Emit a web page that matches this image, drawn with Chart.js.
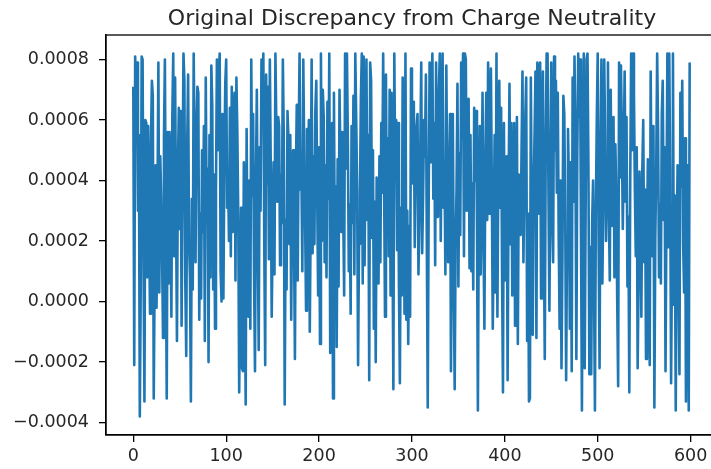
<!DOCTYPE html>
<html>
<head>
<meta charset="utf-8">
<script src="https://cdn.jsdelivr.net/npm/chart.js@4"></script>
<style>
html,body{margin:0;padding:0;background:#fff;overflow:hidden;width:711px;height:469px}
#wrap{position:absolute;left:0;top:0;width:724px;height:469px}
</style>
</head>
<body>
<div id="wrap"><canvas id="c"></canvas></div>
<script>
const chartTitle = 'Original Discrepancy from Charge Neutrality';

// Discrepancy values, samples 0..599
const seg1 = [
7.1e-4,-2.1e-4,8.1e-4,6.4e-4,7.9e-4,3.0e-4,5.5e-4,-3.8e-4,0.5e-4,8.1e-4,8.0e-4,1.2e-4,-3.3e-4,6.0e-4,5.9e-4,0.8e-4,5.8e-4,2.5e-4,-0.4e-4,5.2e-4,
7.3e-4,6.8e-4,-3.2e-4,1.0e-4,4.5e-4,-0.2e-4,3.2e-4,7.9e-4,0.3e-4,4.8e-4,3.5e-4,1.5e-4,-1.2e-4,5.4e-4,8.0e-4,2.0e-4,-3.2e-4,5.6e-4,0.6e-4,5.6e-4,
2.8e-4,-0.5e-4,6.1e-4,8.2e-4,1.5e-4,7.4e-4,3.0e-4,-1.3e-4,4.3e-4,6.4e-4,2.4e-4,6.3e-4,-0.8e-4,3.8e-4,8.2e-4,7.3e-4,0.6e-4,-1.8e-4,5.1e-4,7.5e-4,
2.0e-4,0.8e-4,-3.3e-4,3.4e-4,0.4e-4,8.2e-4,4.9e-4,1.3e-4,5.6e-4,7.1e-4,6.9e-4,-0.6e-4,2.9e-4,0.1e-4,5.0e-4,2.3e-4,5.8e-4,-1.3e-4,7.4e-4,2.7e-4,
4.4e-4,-2.0e-4,5.5e-4,0.8e-4,7.8e-4,6.5e-4,0.4e-4,4.2e-4,-0.9e-4,3.6e-4,8.0e-4,5.0e-4,7.6e-4,8.2e-4,1.0e-4,0.0,6.2e-4,0.1e-4,4.5e-4,7.2e-4
];
const seg2 = [
8.0e-4,3.1e-4,4.2e-4,2.0e-4,6.4e-4,1.5e-4,7.1e-4,2.3e-4,5.8e-4,6.9e-4,0.7e-4,7.4e-4,5.6e-4,2.8e-4,-3.0e-4,0.3e-4,3.1e-4,-2.2e-4,-2.3e-4,4.6e-4,
1.0e-4,-3.4e-4,5.7e-4,1.1e-4,-0.5e-4,4.0e-4,-0.9e-4,8.0e-4,3.5e-4,6.2e-4,0.8e-4,-2.3e-4,4.0e-4,7.0e-4,2.2e-4,-1.6e-4,5.1e-4,3.0e-4,8.0e-4,6.5e-4,
8.2e-4,1.8e-4,-2.1e-4,7.5e-4,3.9e-4,7.1e-4,1.4e-4,8.0e-4,4.4e-4,-0.5e-4,2.1e-4,4.6e-4,0.9e-4,8.2e-4,5.8e-4,3.3e-4,6.1e-4,5.8e-4,1.2e-4,4.2e-4,
2.6e-4,8.0e-4,5.5e-4,-3.4e-4,2.7e-4,0.4e-4,6.3e-4,5.4e-4,1.9e-4,5.5e-4,-0.6e-4,3.6e-4,5.0e-4,2.2e-4,-1.9e-4,4.1e-4,6.5e-4,0.7e-4,5.2e-4,8.2e-4,
3.7e-4,4.2e-4,1.0e-4,8.0e-4,4.9e-4,2.6e-4,-0.3e-4,5.7e-4,3.2e-4,6.0e-4,-1.0e-4,2.9e-4,8.0e-4,1.6e-4,4.8e-4,1.9e-4,6.3e-4,7.3e-4,3.5e-4,0.2e-4
];
const seg3 = [
5.1e-4,-1.4e-4,8.2e-4,2.0e-4,7.0e-4,6.1e-4,1.3e-4,4.5e-4,0.8e-4,6.6e-4,3.4e-4,8.2e-4,-1.7e-4,2.5e-4,5.9e-4,-3.2e-4,6.9e-4,1.1e-4,3.8e-4,-1.5e-4,
4.7e-4,0.5e-4,7.0e-4,4.6e-4,2.3e-4,5.6e-4,3.0e-4,0.2e-4,8.2e-4,4.4e-4,8.2e-4,5.3e-4,1.0e-4,3.2e-4,-0.4e-4,5.8e-4,2.6e-4,6.8e-4,0.9e-4,8.2e-4,
6.0e-4,3.7e-4,-2.1e-4,1.9e-4,3.4e-4,6.7e-4,8.2e-4,0.6e-4,8.1e-4,1.2e-4,4.9e-4,8.0e-4,2.7e-4,5.5e-4,-2.6e-4,7.9e-4,7.3e-4,2.1e-4,5.0e-4,-0.9e-4,
3.3e-4,-2.0e-4,4.1e-4,2.4e-4,0.6e-4,4.8e-4,1.3e-4,5.9e-4,3.6e-4,8.2e-4,4.0e-4,-0.5e-4,7.5e-4,2.2e-4,5.4e-4,1.5e-4,7.0e-4,0.2e-4,6.9e-4,2.4e-4,
-2.9e-4,8.2e-4,4.0e-4,6.0e-4,1.7e-4,5.9e-4,0.5e-4,-2.7e-4,3.1e-4,0.2e-4,7.4e-4,4.1e-4,-0.4e-4,8.2e-4,-0.6e-4,3.0e-4,-1.4e-4,2.5e-4,-0.5e-4,7.7e-4
];
const seg4 = [
5.2e-4,3.9e-4,6.6e-4,1.8e-4,4.4e-4,5.8e-4,6.2e-4,0.9e-4,2.6e-4,5.1e-4,7.9e-4,1.6e-4,3.5e-4,6.0e-4,4.8e-4,7.5e-4,2.0e-4,-3.5e-4,3.3e-4,7.9e-4,
4.6e-4,6.8e-4,8.2e-4,3.4e-4,5.9e-4,1.2e-4,7.9e-4,2.8e-4,5.3e-4,7.0e-4,8.2e-4,2.0e-4,5.7e-4,8.2e-4,3.1e-4,4.6e-4,0.9e-4,7.8e-4,3.6e-4,1.3e-4,
4.2e-4,6.2e-4,-2.3e-4,2.4e-4,6.2e-4,0.8e-4,-2.9e-4,1.9e-4,3.7e-4,7.2e-4,0.5e-4,4.9e-4,2.2e-4,7.9e-4,5.4e-4,8.2e-4,1.5e-4,8.2e-4,8.0e-4,3.0e-4,
4.8e-4,6.7e-4,1.1e-4,5.5e-4,1.0e-4,3.9e-4,0.4e-4,6.4e-4,4.0e-4,6.3e-4,2.6e-4,-3.6e-4,3.2e-4,5.8e-4,0.9e-4,3.4e-4,6.9e-4,2.1e-4,-0.9e-4,4.5e-4,
6.9e-4,2.7e-4,7.9e-4,2.9e-4,5.6e-4,7.7e-4,3.8e-4,-0.9e-4,2.0e-4,5.5e-4,0.3e-4,8.2e-4,-0.5e-4,4.4e-4,7.3e-4,3.1e-4,6.4e-4,1.0e-4,-3.0e-4,5.9e-4
];
const seg5 = [
0.7e-4,2.2e-4,4.8e-4,-2.6e-4,3.6e-4,7.2e-4,1.9e-4,5.9e-4,0.2e-4,3.9e-4,5.9e-4,-0.8e-4,3.2e-4,6.1e-4,-1.4e-4,4.2e-4,2.4e-4,2.2e-4,5.0e-4,7.6e-4,
1.3e-4,3.8e-4,6.0e-4,7.4e-4,-1.3e-4,2.9e-4,-3.3e-4,-3.2e-4,7.4e-4,2.5e-4,-1.1e-4,3.7e-4,5.5e-4,7.6e-4,-1.2e-4,7.9e-4,7.6e-4,2.9e-4,7.9e-4,0.1e-4,
4.6e-4,7.6e-4,2.3e-4,-1.9e-4,5.0e-4,8.2e-4,8.2e-4,3.5e-4,-0.3e-4,4.1e-4,7.9e-4,2.8e-4,1.3e-4,8.1e-4,5.0e-4,7.3e-4,3.6e-4,6.9e-4,2.1e-4,-0.9e-4,
4.0e-4,-2.2e-4,1.4e-4,6.8e-4,6.2e-4,3.0e-4,-2.6e-4,2.2e-4,5.7e-4,3.9e-4,-0.9e-4,4.6e-4,-2.3e-4,7.4e-4,3.3e-4,8.1e-4,5.2e-4,-1.9e-4,4.8e-4,8.2e-4,
6.1e-4,8.0e-4,2.2e-4,-3.6e-4,3.8e-4,8.2e-4,-2.2e-4,3.0e-4,8.0e-4,8.2e-4,4.5e-4,-2.4e-4,1.8e-4,-2.4e-4,2.6e-4,4.0e-4,0.7e-4,-3.6e-4,3.1e-4,6.0e-4
];
const seg6 = [
8.2e-4,1.9e-4,-2.2e-4,4.9e-4,8.0e-4,0.6e-4,3.3e-4,8.0e-4,5.4e-4,2.0e-4,4.7e-4,7.9e-4,3.0e-4,0.7e-4,7.0e-4,2.5e-4,4.3e-4,6.1e-4,0.8e-4,5.2e-4,
3.5e-4,0.0,-2.8e-4,7.9e-4,4.1e-4,7.8e-4,5.5e-4,2.4e-4,4.9e-4,7.6e-4,3.3e-4,6.1e-4,0.5e-4,2.8e-4,-3.0e-4,3.9e-4,8.2e-4,5.0e-4,8.2e-4,6.9e-4,
3.7e-4,1.5e-4,5.1e-4,-2.2e-4,0.8e-4,4.3e-4,2.6e-4,-0.5e-4,4.3e-4,6.0e-4,1.3e-4,3.7e-4,-1.9e-4,2.0e-4,4.7e-4,0.4e-4,-2.1e-4,7.6e-4,3.4e-4,1.5e-4,
5.8e-4,-3.5e-4,2.1e-4,4.4e-4,8.2e-4,5.6e-4,0.8e-4,3.2e-4,0.6e-4,6.2e-4,7.3e-4,2.7e-4,5.1e-4,-2.3e-4,3.0e-4,8.2e-4,1.8e-4,8.2e-4,4.4e-4,-2.7e-4,
1.7e-4,8.2e-4,-0.1e-4,3.5e-4,-3.6e-4,2.0e-4,4.5e-4,0.9e-4,-2.4e-4,6.9e-4,3.8e-4,7.3e-4,1.9e-4,0.3e-4,5.4e-4,-3.3e-4,2.2e-4,4.5e-4,-3.6e-4,7.9e-4
];
const discrepancy = [].concat(seg1, seg2, seg3, seg4, seg5, seg6);

const xTicks = [0, 100, 200, 300, 400, 500, 600];
const yTicks = [-0.0004, -0.0002, 0, 0.0002, 0.0004, 0.0006, 0.0008];

const points = discrepancy.map((v, i) => ({ x: i, y: v }));

const TEXT = '#262626';
const FONT = 'DejaVu Sans';

const frame = {
  id: 'frame',
  afterDraw(chart) {
    const { ctx, chartArea: a } = chart;
    ctx.save();
    ctx.strokeStyle = '#000';
    ctx.lineWidth = 1.3;
    ctx.strokeRect(a.left, a.top, a.right - a.left, a.bottom - a.top);
    ctx.restore();
  }
};

new Chart(document.getElementById('c'), {
  type: 'line',
  data: {
    datasets: [{
      data: points,
      borderColor: '#1f77b4',
      borderWidth: 2.6,
      pointRadius: 0,
      tension: 0,
      fill: false,
      borderJoinStyle: 'round'
    }]
  },
  options: {
    responsive: true,
    maintainAspectRatio: false,
    devicePixelRatio: 1,
    animation: false,
    events: [],
    layout: { padding: { left: 0, right: 6, top: 0, bottom: 0 } },
    plugins: {
      legend: { display: false },
      tooltip: { enabled: false },
      title: {
        display: true,
        text: chartTitle,
        fullSize: false,
        color: TEXT,
        font: { family: FONT, size: 22, weight: 'normal', lineHeight: 1 },
        padding: { top: 8, bottom: 5 }
      }
    },
    scales: {
      x: {
        type: 'linear',
        min: -29.4,
        max: 629.5,
        afterBuildTicks: s => { s.ticks = xTicks.map(v => ({ value: v })); },
        afterFit: s => { s.height = 34; },
        ticks: {
          color: TEXT,
          font: { family: FONT, size: 17.5 },
          padding: 4,
          maxRotation: 0,
          autoSkip: false,
          callback: v => String(v)
        },
        grid: { display: true, drawOnChartArea: false, drawTicks: true, tickLength: 7, color: '#000', lineWidth: 1.3 },
        border: { display: true, color: '#000', width: 1.3 }
      },
      y: {
        type: 'linear',
        min: -0.000441,
        max: 0.000881,
        afterBuildTicks: s => { s.ticks = yTicks.map(v => ({ value: v })); },
        afterFit: s => { s.width = 106; },
        ticks: {
          color: TEXT,
          font: { family: FONT, size: 17.5 },
          padding: 10,
          autoSkip: false,
          callback: v => v.toFixed(4).replace('-', '\u2212')
        },
        grid: { display: true, drawOnChartArea: false, drawTicks: true, tickLength: 7, color: '#000', lineWidth: 1.3 },
        border: { display: true, color: '#000', width: 1.3 }
      }
    }
  },
  plugins: [frame]
});
</script>
</body>
</html>
